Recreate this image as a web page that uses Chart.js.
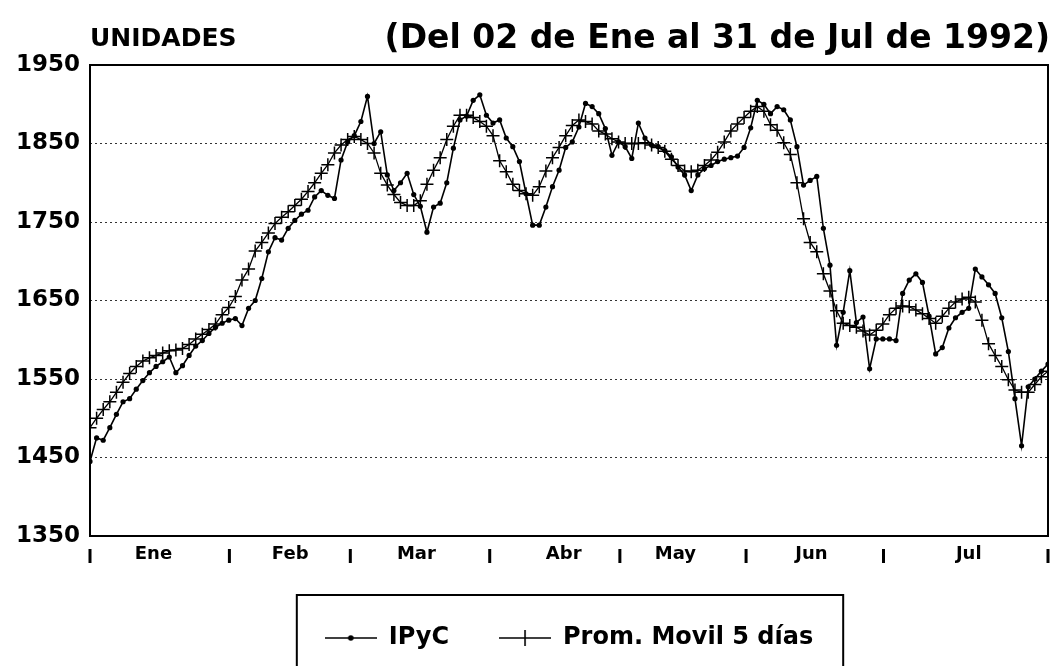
<!DOCTYPE html>
<html lang="es">
<head>
<meta charset="utf-8">
<title>IPyC 1992</title>
<script src="https://cdn.jsdelivr.net/npm/chart.js@4.4.1/dist/chart.umd.min.js"></script>
<style>
  html, body { margin: 0; padding: 0; background: #fff; }
</style>
</head>
<body>
<canvas id="grafica" width="1063" height="666"></canvas>
<script>
// meses y sus limites (indice de dia habil)
const meses = ['Ene', 'Feb', 'Mar', 'Abr', 'May', 'Jun', 'Jul'];
const posMes = [9.6, 30.3, 49.4, 71.7, 88.6, 109.2, 133];
const limitesMes = [0, 21.1, 39.4, 60.5, 80.2, 99.3, 120.1, 145];
const yTicks = [1350, 1450, 1550, 1650, 1750, 1850, 1950];

// IPyC diario (02 Ene - 31 Jul 1992)
const ipyc = [
  1445, 1475, 1472, 1488, 1505, 1521, 1525, 1537, 1548, 1558,
  1566, 1572, 1578, 1558, 1567, 1580, 1592, 1599, 1608, 1616,
  1621, 1625, 1627, 1618, 1640, 1650, 1678, 1712, 1730, 1727,
  1742, 1752, 1760, 1765, 1782, 1790, 1784, 1780, 1829, 1852,
  1860, 1878, 1910, 1850, 1865, 1810, 1790, 1800, 1812, 1785,
  1770, 1737, 1769, 1774, 1800, 1844, 1880, 1885, 1905, 1912,
  1886, 1876, 1880, 1857, 1846, 1827, 1786, 1746, 1746, 1769,
  1795, 1816, 1845, 1852, 1871, 1901, 1897, 1888, 1869, 1835,
  1852, 1846, 1831, 1876, 1857, 1848, 1846, 1841, 1833, 1820,
  1810, 1790, 1810, 1818, 1822, 1827, 1830, 1832, 1834, 1845,
  1870, 1905, 1900, 1888, 1897, 1893, 1880, 1846, 1797, 1803,
  1808, 1742, 1695, 1593, 1635, 1688, 1622, 1629, 1563, 1601,
  1601, 1601, 1599, 1659, 1676, 1684, 1673, 1630, 1582, 1590,
  1615, 1628, 1635, 1640, 1690, 1680, 1670, 1659, 1628, 1585,
  1525, 1465, 1540, 1550, 1560, 1569
];

// promedio movil 5 dias
const promMovil = [
  1488, 1500, 1511, 1521, 1533, 1546, 1557, 1566, 1573, 1577,
  1580, 1583, 1586, 1587, 1589, 1594, 1601, 1607, 1613, 1620,
  1632, 1641, 1655, 1676, 1690, 1713, 1724, 1736, 1748, 1756,
  1763, 1771, 1779, 1789, 1800, 1812, 1823, 1838, 1848, 1855,
  1859, 1855, 1850, 1838, 1812, 1797, 1785, 1775, 1771, 1771,
  1777, 1798, 1816, 1832, 1855, 1872, 1886, 1886, 1883, 1878,
  1872, 1860, 1828, 1814, 1798, 1790, 1786, 1784, 1795, 1815,
  1832, 1845, 1860, 1873, 1880, 1878, 1875, 1866, 1862, 1856,
  1852, 1850, 1850, 1850, 1851, 1848, 1845, 1840, 1830, 1822,
  1815, 1814, 1816, 1822, 1829, 1839, 1852, 1866, 1875, 1883,
  1891, 1897, 1891, 1874, 1867, 1851, 1836, 1800, 1754, 1724,
  1712, 1684, 1662, 1637, 1621, 1618, 1616, 1611, 1606, 1612,
  1620, 1632, 1640, 1643, 1642, 1638, 1633, 1627, 1621, 1630,
  1640, 1648, 1652, 1654, 1648, 1625, 1595, 1580, 1566, 1549,
  1536, 1533, 1533, 1543, 1553, 1560
];

const FUENTE = '"DejaVu Sans", "Liberation Sans", sans-serif';

// muestras de la leyenda: linea con punto / linea con cruz
function muestra(tipo) {
  const c = document.createElement('canvas');
  c.width = 52; c.height = 18;
  const g = c.getContext('2d');
  g.strokeStyle = '#000';
  g.fillStyle = '#000';
  g.lineWidth = 1.6;
  g.beginPath(); g.moveTo(0, 9); g.lineTo(52, 9); g.stroke();
  if (tipo === 'punto') {
    g.beginPath(); g.arc(26, 9, 2.8, 0, Math.PI * 2); g.fill();
  } else {
    g.beginPath(); g.moveTo(26, 1); g.lineTo(26, 17); g.stroke();
  }
  return c;
}
const muestras = [muestra('punto'), muestra('cruz')];

// marco, separadores de mes, titulos y caja de leyenda
const marcoPlugin = {
  id: 'marco',
  afterDraw(chart) {
    const { ctx, chartArea: a, scales } = chart;
    ctx.save();
    ctx.strokeStyle = '#000';
    ctx.fillStyle = '#000';
    ctx.lineWidth = 2;
    ctx.strokeRect(a.left, a.top, a.right - a.left, a.bottom - a.top);

    ctx.lineWidth = 3;
    limitesMes.forEach(v => {
      const px = scales.x.getPixelForValue(v);
      ctx.beginPath();
      ctx.moveTo(px, a.bottom + 13);
      ctx.lineTo(px, a.bottom + 27);
      ctx.stroke();
    });

    ctx.textBaseline = 'alphabetic';
    ctx.textAlign = 'left';
    ctx.font = 'bold 25px ' + FUENTE;
    ctx.fillText('UNIDADES', 90, 46);
    ctx.textAlign = 'right';
    ctx.font = 'bold 33px ' + FUENTE;
    ctx.fillText('(Del 02 de Ene al 31 de Jul de 1992)', 1050, 48);

    const hb = chart.legend.legendHitBoxes;
    if (hb && hb.length) {
      const l = hb[0].left - 28;
      const r = hb[hb.length - 1].left + hb[hb.length - 1].width + 30;
      const t = hb[0].top - 31;
      ctx.lineWidth = 2;
      ctx.strokeRect(l, t, r - l, chart.height - t + 10);
    }
    ctx.restore();
  }
};

const ctx = document.getElementById('grafica').getContext('2d');
const chart = new Chart(ctx, {
  type: 'line',
  data: {
    datasets: [
      {
        label: 'IPyC',
        data: ipyc.map((v, i) => ({ x: i, y: v })),
        borderColor: '#000',
        backgroundColor: '#000',
        borderWidth: 1.6,
        pointRadius: 2.6,
        pointBorderWidth: 0,
        pointBackgroundColor: '#000',
        tension: 0
      },
      {
        label: 'Prom. Movil 5 días',
        data: promMovil.map((v, i) => ({ x: i, y: v })),
        borderColor: '#000',
        backgroundColor: '#000',
        borderWidth: 1.3,
        pointStyle: 'cross',
        pointRadius: 6.5,
        pointBorderWidth: 1.5,
        tension: 0
      }
    ]
  },
  options: {
    responsive: false,
    animation: false,
    devicePixelRatio: 1,
    layout: { padding: { top: 65, right: 15, bottom: 6, left: 0 } },
    plugins: {
      tooltip: { enabled: false },
      title: { display: false },
      legend: {
        display: true,
        position: 'bottom',
        fullSize: false,
        align: 'center',
        labels: {
          usePointStyle: true,
          pointStyleWidth: 52,
          padding: 50,
          color: '#000',
          font: { family: FUENTE, weight: 'bold', size: 24 },
          generateLabels: (c) => c.data.datasets.map((ds, i) => ({
            text: ds.label,
            pointStyle: muestras[i],
            datasetIndex: i,
            hidden: false,
            lineWidth: 0,
            fillStyle: 'transparent',
            strokeStyle: 'transparent',
            fontColor: '#000'
          }))
        }
      }
    },
    scales: {
      x: {
        type: 'linear',
        min: 0,
        max: 145,
        afterBuildTicks: (s) => { s.ticks = posMes.map(v => ({ value: v })); },
        afterFit: (s) => { s.height = 40; },
        ticks: {
          autoSkip: false,
          maxRotation: 0,
          padding: 0,
          color: '#000',
          font: { family: FUENTE, weight: 'bold', size: 18 },
          callback: (v, i) => meses[i]
        },
        grid: { display: false },
        border: { display: false }
      },
      y: {
        min: 1350,
        max: 1950,
        afterBuildTicks: (s) => { s.ticks = yTicks.map(v => ({ value: v })); },
        afterFit: (s) => { s.width = 90; },
        ticks: {
          padding: 10,
          color: '#000',
          font: { family: FUENTE, weight: 'bold', size: 23 },
          callback: (v) => String(v)
        },
        grid: {
          drawTicks: false,
          lineWidth: 1,
          color: (c) => (c.tick && (c.tick.value === 1950 || c.tick.value === 1350)) ? 'transparent' : '#333'
        },
        border: { display: false, dash: [2, 3] }
      }
    }
  },
  plugins: [marcoPlugin]
});
</script>
</body>
</html>
